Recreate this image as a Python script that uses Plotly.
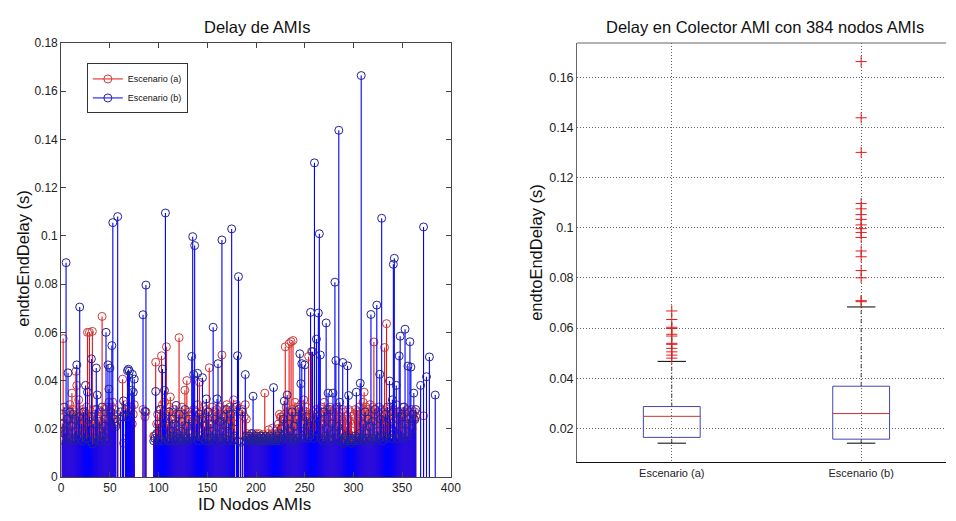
import plotly.graph_objects as go

N = None
node_ids = list(range(1, 385))

# Scenario (a) end-to-end delay per AMI node (s)
delay_a = [
    .0223, .0574, .025, .019, .027, .021, .016, .024, .030, .026,
    .0348, .028, .016, .027, .0438, .038, .025, .032, .022, .027,
    .025, .028, .026, .027, .015, .029, .060, .026, .060, .023,
    .025, .0604, .021, .026, .016, .019, .028, .024, .020, .027,
    .025, .0666, .022, .028, .016, .023, .029, .024, .031, .027,
    .025, .029, .031, .024, .028, .022, N, .026, N, N,
    .025, N, .0406, .014, N, .030, .016, .028, .024, .027,
    .025, .029, .022, .026, .030, N, N, N, N, N,
    N, N, N, .028, N, .025, .027, N, N, N,
    N, N, N, N, .017, .017, .0476, .022, .026, .019,
    .028, .015, .0503, .030, .027, .031, .016, .054, .022, .027,
    .029, .0332, .021, .015, .019, .028, .024, .026, .016, .025,
    .0578, .027, .015, .029, .021, .026, .036, .016, .040, .023,
    .027, .025, .015, .022, .026, .028, .016, .027, .025, .030,
    .026, .0393, .015, .027, .025, .029, .016, .026, .028, .024,
    .027, .0453, .015, .022, .029, .026, .016, .027, .025, .028,
    .015, .026, .029, .025, .0506, .016, .024, .028, .026, .030,
    .015, .027, .029, .024, .016, .028, .032, .025, N, .030,
    .027, .015, N, .026, N, .028, N, .025, .030, .024,
    .018, .017, .016, .017, .018, .016, .017, .016, .017, .018,
    .017, .016, .018, .017, .016, .017, .0176, .016, .0348, .017,
    .016, .018, .0196, .017, .016, .018, .0203, .017, .016, .019,
    .018, .020, .022, .026, .0248, .025, .016, .024, .026, .054,
    .029, .025, .027, .0553, .024, .0561, .028, .0566, .025, .031,
    .027, .016, .029, .025, .027, .030, .026, .015, .032, .025,
    .027, .029, .024, .050, .026, .016, .052, .025, .027, .015,
    .026, .028, .016, .027, .024, .026, .029, .015, .027, .031,
    .026, .016, .028, .025, .027, .029, .015, .024, .027, .025,
    .028, .016, .029, .024, .027, .025, .022, .015, .028, .024,
    .027, .025, .021, .016, .028, .023, .027, .025, .019, .015,
    .026, .028, .016, .027, .024, .029, .026, .015, .025, .031,
    .0352, .027, .029, .016, .028, .026, .030, .015, .027, .029,
    .056, .026, .016, .025, .027, .029, .015, .026, .028, .025,
    .027, .0537, .016, .0636, .028, .025, .027, .029, .016, .026,
    .028, .025, .015, .030, .026, .024, .016, .025, .027, .026,
    .029, .015, .027, .025, .028, .016, .024, .027, .015, .028,
    .026, .024, .027, .025, N, N, N, N, N, N,
    N, .0254, N, N, N, N, N, N, N, N,
    N, N, N, N,
]

# Scenario (b) end-to-end delay per AMI node (s)
delay_b = [
    .0153, .022, .029, .018, .0889, .024, .0432, .016, .027, .015,
    .021, .026, .015, .024, .019, .0465, .017, .025, .0705, .016,
    .022, .015, .027, .018, .038, .016, .0352, .021, .025, .015,
    .049, .0137, .022, .016, .028, .0452, .034, .015, .023, .019,
    .015, .029, .017, .021, .024, .060, .015, .0465, .0365, .0452,
    .027, .0545, .1055, .024, .0227, .021, N, .108, N, N,
    .027, N, .025, .0316, N, .028, .025, .0441, .0447, .0439,
    .027, .036, .0426, .0352, .0406, N, N, N, N, N,
    N, N, N, .0673, N, .0272, .0796, N, N, N,
    N, N, N, N, .015, .016, .0355, .018, .015, .022,
    .016, .028, .015, .0448, .024, .0359, .1095, .016, .021, .015,
    .027, .019, .015, .024, .017, .022, .015, .0297, .018, .016,
    .026, .015, .019, .023, .015, .017, .028, .016, .021, .015,
    .024, .018, .016, .050, .0997, .0425, .096, .017, .022, .043,
    .015, .026, .017, .024, .0412, .016, .021, .015, .0324, .018,
    .027, .015, .022, .016, .019, .0621, .015, .024, .018, .0324,
    .047, .016, .023, .015, .0983, .019, .025, .016, .021, .028,
    .015, .022, .017, .026, .1029, .015, .020, .016, N, .029,
    .0503, .0831, N, .0144, N, .027, N, .015, .0425, .017,
    .016, .015, .017, .015, .016, .018, .0335, .015, .016, .015,
    .017, .015, .016, .015, .017, .016, .015, .016, .015, .017,
    .015, .016, .015, .017, .016, .015, .016, .0371, .015, .016,
    .015, .017, .016, .018, .015, .020, .016, .024, .0315, .018,
    .016, .034, .022, .016, .019, .015, .027, .016, .021, .015,
    .018, .024, .016, .028, .0511, .0387, .047, .016, .022, .0465,
    .018, .025, .016, .021, .017, .0683, .023, .052, .016, .1303,
    .019, .0572, .025, .068, .1009, .0506, .016, .022, .015, .027,
    .017, .0639, .020, .0348, .016, .028, .015, .022, .0348, .018,
    .0808, .0483, .016, .021, .1438, .031, .015, .018, .0475, .014,
    .016, .015, .017, .0461, .0338, .015, .016, .014, .015, .016,
    .015, .017, .0352, .016, .015, .018, .0389, .1665, .016, .022,
    .015, .027, .018, .016, .024, .015, .021, .0674, .016, .023,
    .015, .028, .017, .0713, .019, .016, .0426, .024, .1073, .015,
    .022, .017, .026, .016, .029, .018, .0398, .024, .016, .032,
    .0882, .0907, .021, .038, .016, .027, .0502, .0584, .019, .025,
    .016, .029, .0613, .022, .017, .046, .024, .0561, .0456, .020,
    .026, .0348, .0238, .028, N, N, N, N, .038, N,
    N, .1037, N, N, .0416, N, N, .0498, N, N,
    N, N, N, .034,
]

series_names = ["Escenario (a)", "Escenario (b)"]
x_ticks_left = [0, 50, 100, 150, 200, 250, 300, 350, 400]
y_ticks_left = [0, 0.02, 0.04, 0.06, 0.08, 0.1, 0.12, 0.14, 0.16, 0.18]
y_ticktext_left = ["0", "0.02", "0.04", "0.06", "0.08", "0.1", "0.12", "0.14", "0.16", "0.18"]

# Box plot statistics
box_labels = ["Escenario (a)", "Escenario (b)"]
box_pos = [1, 2]
box_lower = [0.0141, 0.0141]
box_q1 = [0.0164, 0.0157]
box_median = [0.0248, 0.0259]
box_q3 = [0.0287, 0.0368]
box_upper = [0.0467, 0.0684]
outliers_a = [0.0480, 0.0492, 0.0505, 0.0519, 0.0535, 0.0539, 0.0568, 0.0575,
              0.0598, 0.0603, 0.0634, 0.0668]
outliers_b = [0.0705, 0.0709, 0.0800, 0.0829, 0.0884, 0.0907, 0.0961, 0.0981,
              0.0996, 0.1011, 0.1033, 0.1052, 0.1075, 0.1096, 0.1300, 0.1438, 0.1662]
y_ticks_right = [0.02, 0.04, 0.06, 0.08, 0.1, 0.12, 0.14, 0.16]
y_ticktext_right = ["0.02", "0.04", "0.06", "0.08", "0.1", "0.12", "0.14", "0.16"]

W, H = 956, 521
FONT = "Liberation Sans, Arial, Helvetica, sans-serif"

stem_colors = ["rgb(230,20,20)", "rgb(0,0,255)"]
mark_colors = ["rgb(200,60,60)", "rgb(35,35,150)"]

fig = go.Figure()


def stems(xs, ys):
    sx, sy, mx, my = [], [], [], []
    for x, y in zip(xs, ys):
        if y is None:
            continue
        sx += [x, x, None]
        sy += [0, y, None]
        mx.append(x)
        my.append(y)
    return sx, sy, mx, my


for name, data, lc, mc in zip(series_names, [delay_a, delay_b], stem_colors, mark_colors):
    sx, sy, mx, my = stems(node_ids, data)
    fig.add_trace(go.Scatter(x=sx, y=sy, mode="lines", line=dict(color=lc, width=1.1),
                             showlegend=False, hoverinfo="skip", xaxis="x", yaxis="y"))
    fig.add_trace(go.Scatter(x=mx, y=my, mode="markers",
                             marker=dict(symbol="circle-open", size=8, color=mc,
                                         line=dict(width=1, color=mc)),
                             showlegend=False, xaxis="x", yaxis="y"))
    fig.add_trace(go.Scatter(x=[None], y=[None], mode="lines+markers", name=name,
                             line=dict(color=lc, width=1),
                             marker=dict(symbol="circle-open", size=8, color=mc,
                                         line=dict(width=1, color=mc)),
                             xaxis="x", yaxis="y"))

# Box plot drawn from statistics
bw = 0.15   # half box width
cw = 0.075  # half cap width
wx, wy, cx, cy, bx, by, mdx, mdy = [], [], [], [], [], [], [], []
for p, lo, q1, md, q3, up in zip(box_pos, box_lower, box_q1, box_median, box_q3, box_upper):
    wx += [p, p, None, p, p, None]
    wy += [lo, q1, None, q3, up, None]
    cx += [p - cw, p + cw, None, p - cw, p + cw, None]
    cy += [lo, lo, None, up, up, None]
    bx += [p - bw, p + bw, p + bw, p - bw, p - bw, None]
    by += [q1, q1, q3, q3, q1, None]
    mdx += [p - bw, p + bw, None]
    mdy += [md, md, None]

fig.add_trace(go.Scatter(x=wx, y=wy, mode="lines", line=dict(color="#444444", width=1, dash="4px,2px,1px,2px"),
                         showlegend=False, xaxis="x2", yaxis="y2"))
fig.add_trace(go.Scatter(x=cx, y=cy, mode="lines", line=dict(color="#000000", width=1),
                         showlegend=False, xaxis="x2", yaxis="y2"))
fig.add_trace(go.Scatter(x=bx, y=by, mode="lines", line=dict(color="rgb(70,70,175)", width=1),
                         showlegend=False, xaxis="x2", yaxis="y2"))
fig.add_trace(go.Scatter(x=mdx, y=mdy, mode="lines", line=dict(color="rgb(210,50,50)", width=1),
                         showlegend=False, xaxis="x2", yaxis="y2"))
for p, outs in zip(box_pos, [outliers_a, outliers_b]):
    fig.add_trace(go.Scatter(x=[p] * len(outs), y=outs, mode="markers",
                             marker=dict(symbol="cross-thin-open", size=8, color="rgb(220,30,30)",
                                         line=dict(width=1, color="rgb(220,30,30)")),
                             showlegend=False, xaxis="x2", yaxis="y2"))

tickfont = dict(family=FONT, size=12, color="#222222")

fig.update_layout(
    width=W, height=H,
    margin=dict(l=0, r=0, t=0, b=0),
    paper_bgcolor="white", plot_bgcolor="white",
    font=dict(family=FONT, color="#111111"),
    xaxis=dict(domain=[59 / W, 454 / W], range=[0, 400], tickvals=x_ticks_left,
               ticks="inside", ticklen=5, tickcolor="#444", showline=True, linecolor="#444",
               mirror="ticks", showgrid=False, zeroline=False, tickfont=tickfont, anchor="y"),
    yaxis=dict(domain=[1 - 483 / H, 1 - 37 / H], range=[0, 0.18], tickvals=y_ticks_left,
               ticktext=y_ticktext_left, ticks="inside", ticklen=5, tickcolor="#444",
               showline=True, linecolor="#444", mirror="ticks", showgrid=False, zeroline=False,
               tickfont=tickfont, anchor="x"),
    xaxis2=dict(domain=[582 / W, 1.0], range=[0.5, 2.448], tickvals=box_pos, ticktext=box_labels,
                ticks="", showline=True, linecolor="#111", showgrid=True, gridcolor="#666",
                griddash="1px,2px", gridwidth=1, zeroline=False, anchor="y2",
                tickfont=dict(family=FONT, size=11, color="#222222")),
    yaxis2=dict(domain=[1 - 468 / H, 1 - 37 / H], range=[0.00643, 0.1736], tickvals=y_ticks_right,
                ticktext=y_ticktext_right, ticks="", showline=True, linecolor="#666",
                showgrid=True, gridcolor="#666", griddash="1px,2px", gridwidth=1, zeroline=False,
                anchor="x2", tickfont=dict(family=FONT, size=12.5, color="#222222")),
    legend=dict(x=85 / W, y=1 - 58 / H, xanchor="left", yanchor="top", bgcolor="white",
                bordercolor="#333", borderwidth=1, font=dict(family=FONT, size=9, color="#111"),
                tracegroupgap=0, itemwidth=30),
    showlegend=True,
)

fig.add_shape(type="line", xref="paper", yref="y2 domain", x0=582 / W, x1=1.0, y0=1, y1=1,
              line=dict(color="#666", width=1))

annots = [
    dict(text="Delay de AMIs", x=257 / W, y=1 - 21 / H, size=16.5, angle=0),
    dict(text="Delay en Colector AMI con 384 nodos AMIs", x=773 / W, y=1 - 21 / H, size=16.5, angle=0),
    dict(text="ID Nodos AMIs", x=255 / W, y=1 - 511 / H, size=17, angle=0),
    dict(text="endtoEndDelay (s)", x=20 / W, y=1 - 258 / H, size=16.5, angle=-90),
    dict(text="endtoEndDelay (s)", x=541 / W, y=1 - 252 / H, size=16.5, angle=-90),
]
for a in annots:
    fig.add_annotation(text=a["text"], x=a["x"], y=a["y"], xref="paper", yref="paper",
                       xanchor="center", yanchor="middle", showarrow=False, textangle=a["angle"],
                       font=dict(family=FONT, size=a["size"], color="#111111"))

fig.write_html("out.html")
